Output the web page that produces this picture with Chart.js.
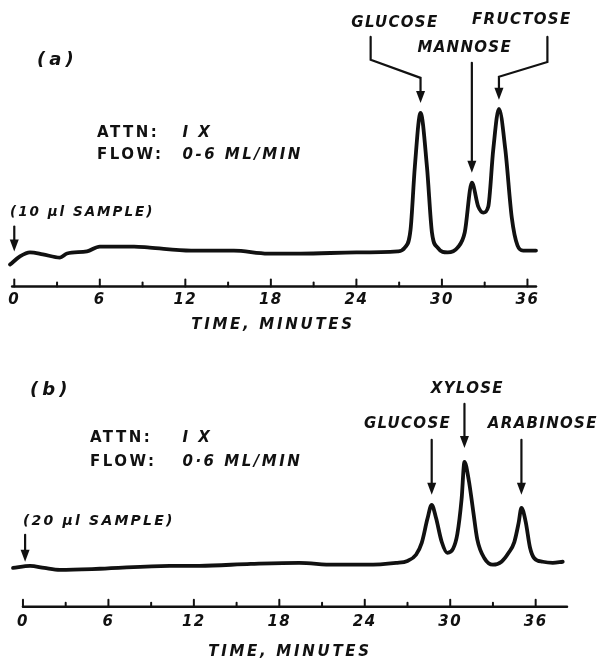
<!DOCTYPE html>
<html>
<head>
<meta charset="utf-8">
<script src="https://cdn.jsdelivr.net/npm/chart.js@4.4.1/dist/chart.umd.min.js"></script>
<style>
	body { margin: 0; background: #fff; }
	#wrap { position: relative; width: 600px; height: 661px; background: #fff; }
	canvas { position: absolute; left: 0; }
	#chartA { top: 0; }
	#chartB { top: 340px; }
</style>
</head>
<body>
<div id="wrap">
	<canvas id="chartA" width="600" height="340"></canvas>
	<canvas id="chartB" width="600" height="321"></canvas>
</div>
<script>
// (a) glucose / mannose / fructose run
const timeA = [-0.3, 0.4, 1.1, 2.0, 3.2, 3.7, 5.1, 6.0, 8.4, 9.5, 12.4, 15.4, 17.8, 20.1, 24.0, 26.9, 27.4, 27.8, 28.1, 28.5, 28.95, 29.3, 29.7, 30.4, 31.1, 31.6, 32.1, 32.55, 32.9, 33.25, 33.6, 34.0, 34.45, 34.9, 35.3, 35.7, 36.6];
const signalA = [8.1, 11.1, 12.6, 11.9, 10.7, 12.2, 13.0, 14.8, 14.8, 14.4, 13.3, 13.3, 12.2, 12.2, 12.6, 13.0, 14.4, 21.1, 44.4, 64.4, 44.4, 20.0, 14.4, 12.6, 14.4, 20.0, 38.5, 29.6, 27.4, 29.6, 50.7, 65.9, 50.7, 25.6, 15.2, 13.3, 13.3];
const peaksA = ['GLUCOSE', 'MANNOSE', 'FRUCTOSE'];
const peakTimeA = [28.5, 32.1, 34.0];

// (b) glucose / xylose / arabinose run
const timeB = [-0.7, 0.5, 1.5, 2.6, 5.4, 10.3, 12.4, 16.0, 19.4, 21.8, 24.1, 26.2, 27.0, 27.6, 28.0, 28.4, 28.7, 29.0, 29.4, 29.8, 30.2, 30.5, 30.8, 31.0, 31.3, 31.6, 31.9, 32.4, 33.0, 33.6, 34.1, 34.5, 34.8, 35.0, 35.3, 35.6, 35.9, 36.5, 37.2, 37.9];
const signalB = [14.4, 15.2, 14.4, 13.7, 14.1, 15.2, 15.2, 15.9, 16.3, 15.6, 15.6, 16.3, 17.0, 19.3, 23.7, 32.6, 37.8, 33.0, 24.1, 20.0, 21.5, 27.0, 40.0, 53.7, 47.0, 36.0, 25.0, 18.0, 15.6, 16.7, 20.0, 24.0, 31.0, 36.7, 31.5, 22.0, 18.0, 16.7, 16.3, 16.7];
const peaksB = ['GLUCOSE', 'XYLOSE', 'ARABINOSE'];
const peakTimeB = [28.7, 31.0, 35.0];

const majorStep = 6;
const minorStep = 3;

const FONT = '"DejaVu Sans", sans-serif';

// where the lettering sits, in (minutes, response) units
const layoutA = {
	axis: [-0.15, 36.6],
	texts: [
		{text: '(a)', t: 1.6, v: 84.1, size: 18, sp: 4, align: 'left'},
		{text: 'ATTN:', t: 5.8, v: 57.0, size: 15, sp: 2.5, align: 'left', upright: true},
		{text: 'I X', t: 11.8, v: 57.0, size: 15, sp: 2.5, align: 'left'},
		{text: 'FLOW:', t: 5.8, v: 48.9, size: 15, sp: 2.5, align: 'left', upright: true},
		{text: '0-6 ML/MIN', t: 11.8, v: 48.9, size: 15, sp: 2.5, align: 'left'},
		{text: '(10 μl SAMPLE)', t: -0.3, v: 27.4, size: 13.5, sp: 2, align: 'left'},
	],
	sample: [[0, 22.2], [0, 13.0]],
	labels: [
		{t: 26.7, v: 97.8, path: [[25.0, 92.6], [25.0, 84.1], [null, 77.4], [null, 68.1]]},
		{t: 31.6, v: 88.5, path: [[null, 83.0], [null, 42.2]]},
		{t: 35.6, v: 98.9, path: [[37.4, 92.6], [37.4, 83.3], [null, 77.8], [null, 69.3]]},
	],
};
const layoutB = {
	axis: [0, 38.2],
	texts: [
		{text: '(b)', t: 0.5, v: 80.4, size: 18, sp: 4, align: 'left'},
		{text: 'ATTN:', t: 4.7, v: 62.6, size: 15, sp: 2.5, align: 'left', upright: true},
		{text: 'I X', t: 11.2, v: 62.6, size: 15, sp: 2.5, align: 'left'},
		{text: 'FLOW:', t: 4.7, v: 53.7, size: 15, sp: 2.5, align: 'left', upright: true},
		{text: '0·6 ML/MIN', t: 11.2, v: 53.7, size: 15, sp: 2.5, align: 'left'},
		{text: '(20 μl SAMPLE)', t: 0, v: 31.5, size: 14, sp: 2.2, align: 'left'},
	],
	sample: [[0.15, 26.7], [0.15, 16.7]],
	labels: [
		{t: 27.0, v: 67.8, path: [[null, 61.9], [null, 41.5]]},
		{t: 31.2, v: 80.7, path: [[null, 75.2], [null, 58.9]]},
		{t: 36.5, v: 67.8, path: [[null, 61.9], [null, 41.5]]},
	],
};

// linear scale whose title is lettered wider than the tick numbers
class SpacedLinear extends Chart.LinearScale {
	drawTitle() {
		const ctx = this.ctx;
		const old = ctx.letterSpacing;
		ctx.letterSpacing = '2.7px';
		super.drawTitle();
		ctx.letterSpacing = old;
	}
}
SpacedLinear.id = 'spacedLinear';
SpacedLinear.defaults = Chart.LinearScale.defaults;
Chart.register(SpacedLinear);

const arrow = (ctx, pts) => {
	const n = pts.length;
	const [tx, ty] = pts[n - 1];
	const [px, py] = pts[n - 2];
	const len = Math.hypot(tx - px, ty - py);
	const ux = (tx - px) / len, uy = (ty - py) / len;
	const head = 12, half = 4.5;
	ctx.beginPath();
	ctx.moveTo(pts[0][0], pts[0][1]);
	for (let i = 1; i < n - 1; i++) ctx.lineTo(pts[i][0], pts[i][1]);
	ctx.lineTo(tx - ux * head * 0.8, ty - uy * head * 0.8);
	ctx.stroke();
	ctx.beginPath();
	ctx.moveTo(tx, ty);
	ctx.lineTo(tx - ux * head - uy * half, ty - uy * head + ux * half);
	ctx.lineTo(tx - ux * head + uy * half, ty - uy * head - ux * half);
	ctx.closePath();
	ctx.fill();
};

const chartNotes = {
	id: 'chartNotes',
	beforeLayout(chart) {
		chart.ctx.letterSpacing = '1.5px';
	},
	beforeDraw(chart) {
		chart.ctx.letterSpacing = '1.5px';
	},
	afterDraw(chart, args, opts) {
		const {ctx} = chart;
		const xs = chart.scales.x, ys = chart.scales.y;
		const X = t => xs.getPixelForValue(t);
		const Y = v => ys.getPixelForValue(v);
		const lay = opts.layout;
		ctx.save();
		ctx.strokeStyle = '#111';
		ctx.fillStyle = '#111';
		ctx.lineCap = 'round';

		// time axis with ticks pointing up
		const y0 = Y(0);
		ctx.lineWidth = 2.5;
		ctx.beginPath();
		ctx.moveTo(X(lay.axis[0]), y0);
		ctx.lineTo(X(lay.axis[1]), y0);
		ctx.stroke();
		ctx.lineWidth = 2;
		xs.ticks.forEach(tk => {
			const x = X(tk.value);
			const h = tk.value % majorStep === 0 ? 7 : 4;
			ctx.beginPath();
			ctx.moveTo(x, y0);
			ctx.lineTo(x, y0 - h);
			ctx.stroke();
		});

		// lettering
		ctx.textBaseline = 'middle';
		lay.texts.forEach(o => {
			ctx.font = (o.upright ? '' : 'italic ') + 'bold ' + o.size + 'px ' + FONT;
			ctx.letterSpacing = o.sp + 'px';
			ctx.textAlign = o.align;
			ctx.fillText(o.text, X(o.t), Y(o.v));
		});

		// sample injection arrow
		ctx.lineWidth = 2.2;
		arrow(ctx, lay.sample.map(p => [X(p[0]), Y(p[1])]));

		// peak names and their arrows
		ctx.font = 'italic bold 15px ' + FONT;
		ctx.letterSpacing = '1.3px';
		ctx.textAlign = 'center';
		lay.labels.forEach((o, i) => {
			ctx.fillText(opts.names[i], X(o.t), Y(o.v));
			const pts = o.path.map(p => [X(p[0] === null ? opts.times[i] : p[0]), Y(p[1])]);
			ctx.lineWidth = 2.2;
			arrow(ctx, pts);
		});
		ctx.restore();
	}
};

const makeChart = (id, times, signal, names, peakTimes, lay, range, pad) => new Chart(
	document.getElementById(id),
	{
		type: 'line',
		data: {
			datasets: [{
				data: times.map((t, i) => ({x: t, y: signal[i]})),
				borderColor: '#111',
				borderWidth: 3.8,
				pointRadius: 0,
				fill: false,
				cubicInterpolationMode: 'monotone',
				clip: false,
				borderCapStyle: 'round',
				borderJoinStyle: 'round'
			}]
		},
		options: {
			responsive: false,
			animation: false,
			devicePixelRatio: 1,
			layout: {padding: pad},
			plugins: {
				legend: {display: false},
				tooltip: {enabled: false},
				chartNotes: {layout: lay, names: names, times: peakTimes}
			},
			scales: {
				x: {
					type: 'spacedLinear',
					min: range.xmin,
					max: range.xmax,
					grid: {display: false, drawTicks: false},
					border: {display: false},
					ticks: {
						stepSize: minorStep,
						includeBounds: false,
						autoSkip: false,
						maxRotation: 0,
						color: '#111',
						padding: range.tickPad,
						font: {family: FONT, size: 15, style: 'italic', weight: 'bold'},
						callback: v => v % majorStep === 0 ? String(v) : ''
					},
					title: {
						display: true,
						text: 'TIME, MINUTES',
						color: '#111',
						font: {family: FONT, size: 15, style: 'italic', weight: 'bold'},
						padding: {top: range.titleTop, bottom: range.titleBottom}
					}
				},
				y: {
					type: 'linear',
					display: false,
					min: 0,
					max: range.ymax
				}
			}
		},
		plugins: [chartNotes]
	}
);

makeChart('chartA', timeA, signalA, peaksA, peakTimeA, layoutA,
	{xmin: -0.3, xmax: 36.6, ymax: 100, tickPad: 5, titleTop: 1.4, titleBottom: 6.2},
	{top: 17, left: 10, right: 64, bottom: 0});
makeChart('chartB', timeB, signalB, peaksB, peakTimeB, layoutB,
	{xmin: -0.7, xmax: 38.2, ymax: 90, tickPad: 6.6, titleTop: 5.0, titleBottom: 0},
	{top: 24, left: 13, right: 33, bottom: 0});
</script>
</body>
</html>
